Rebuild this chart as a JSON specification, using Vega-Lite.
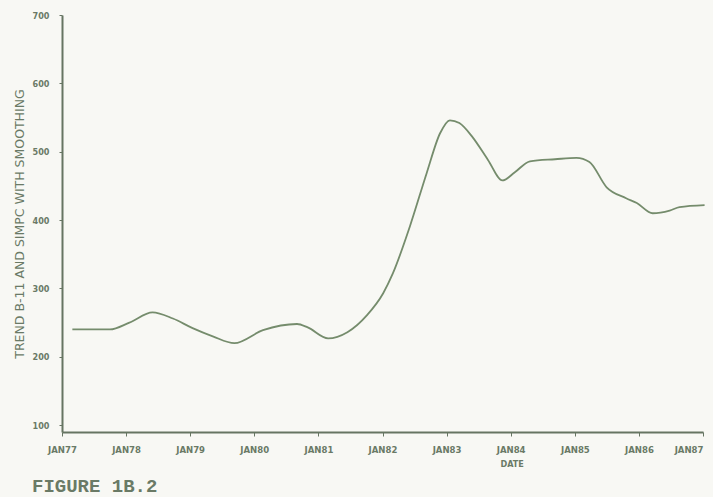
{
  "$schema": "https://vega.github.io/schema/vega-lite/v6.json",
  "width": 641,
  "height": 417,
  "autosize": {"type": "none"},
  "padding": {"left": 62, "top": 15, "right": 10, "bottom": 65},
  "background": "#f8f8f4",
  "title": {
    "text": "FIGURE 1B.2",
    "orient": "bottom",
    "anchor": "start",
    "frame": "group",
    "dx": -30,
    "offset": 9,
    "font": "Liberation Mono",
    "fontSize": 19,
    "fontWeight": "bold",
    "color": "#6a7a66"
  },
  "data": {
    "values": [
      {"date": "1977-03-01", "value": 240},
      {"date": "1977-06-10", "value": 240},
      {"date": "1977-10-01", "value": 240},
      {"date": "1978-01-20", "value": 250},
      {"date": "1978-06-01", "value": 265},
      {"date": "1978-09-25", "value": 256},
      {"date": "1979-01-15", "value": 242},
      {"date": "1979-05-10", "value": 230},
      {"date": "1979-09-10", "value": 220},
      {"date": "1980-02-20", "value": 239},
      {"date": "1980-09-01", "value": 248},
      {"date": "1980-11-01", "value": 243},
      {"date": "1981-02-25", "value": 227},
      {"date": "1981-06-15", "value": 236},
      {"date": "1981-10-05", "value": 261},
      {"date": "1982-01-05", "value": 293},
      {"date": "1982-03-01", "value": 322},
      {"date": "1982-06-05", "value": 390},
      {"date": "1982-09-10", "value": 469},
      {"date": "1982-11-25", "value": 527},
      {"date": "1983-01-20", "value": 546},
      {"date": "1983-03-15", "value": 542},
      {"date": "1983-05-30", "value": 521},
      {"date": "1983-08-25", "value": 488},
      {"date": "1983-11-15", "value": 458},
      {"date": "1984-01-25", "value": 470},
      {"date": "1984-04-20", "value": 486},
      {"date": "1984-09-10", "value": 489},
      {"date": "1985-01-10", "value": 491},
      {"date": "1985-03-25", "value": 485},
      {"date": "1985-07-01", "value": 448},
      {"date": "1985-10-20", "value": 432},
      {"date": "1985-12-20", "value": 425},
      {"date": "1986-03-20", "value": 410},
      {"date": "1986-06-25", "value": 414},
      {"date": "1986-08-20", "value": 419},
      {"date": "1987-01-10", "value": 422}
    ]
  },
  "mark": {
    "type": "line",
    "interpolate": "monotone",
    "color": "#758c6c",
    "strokeWidth": 1.8
  },
  "encoding": {
    "x": {
      "field": "date",
      "type": "temporal",
      "scale": {"domain": ["1977-01-01", "1987-01-01"]},
      "axis": {
        "title": "DATE",
        "titleX": 438,
        "titleY": 31,
        "titleAnchor": "start",
        "titleAlign": "left",
        "titleBaseline": "middle",
        "titleFont": "DejaVu Sans Condensed",
        "titleFontSize": 9,
        "titleFontWeight": "bold",
        "titleColor": "#6a7a66",
        "format": "%b%y",
        "labelExpr": "upper(datum.label)",
        "labelAlign": {
          "condition": {"test": "year(datum.value) >= 1987", "value": "right"},
          "value": "center"
        },
        "tickCount": {"interval": "year", "step": 1},
        "labelFont": "DejaVu Sans Condensed",
        "labelFontSize": 9.5,
        "labelFontWeight": "bold",
        "labelColor": "#6a7a66",
        "labelPadding": 8,
        "labelFlush": false,
        "labelOverlap": false,
        "tickSize": 4,
        "tickColor": "#667562",
        "domainColor": "#667562",
        "domainWidth": 2,
        "grid": false
      }
    },
    "y": {
      "field": "value",
      "type": "quantitative",
      "scale": {"domain": [90, 700], "nice": false, "zero": false},
      "axis": {
        "title": "TREND B-11 AND SIMPC WITH SMOOTHING",
        "titleFont": "DejaVu Sans",
        "titleFontSize": 12.5,
        "titleFontWeight": "normal",
        "titleColor": "#6a7a66",
        "titlePadding": 6,
        "values": [100, 200, 300, 400, 500, 600, 700],
        "labelFont": "DejaVu Sans Condensed",
        "labelFontSize": 9,
        "labelFontWeight": "bold",
        "labelColor": "#6a7a66",
        "labelPadding": 10,
        "tickSize": 3,
        "tickColor": "#667562",
        "domainColor": "#667562",
        "domainWidth": 2,
        "grid": false
      }
    }
  },
  "config": {
    "view": {"stroke": null}
  }
}
